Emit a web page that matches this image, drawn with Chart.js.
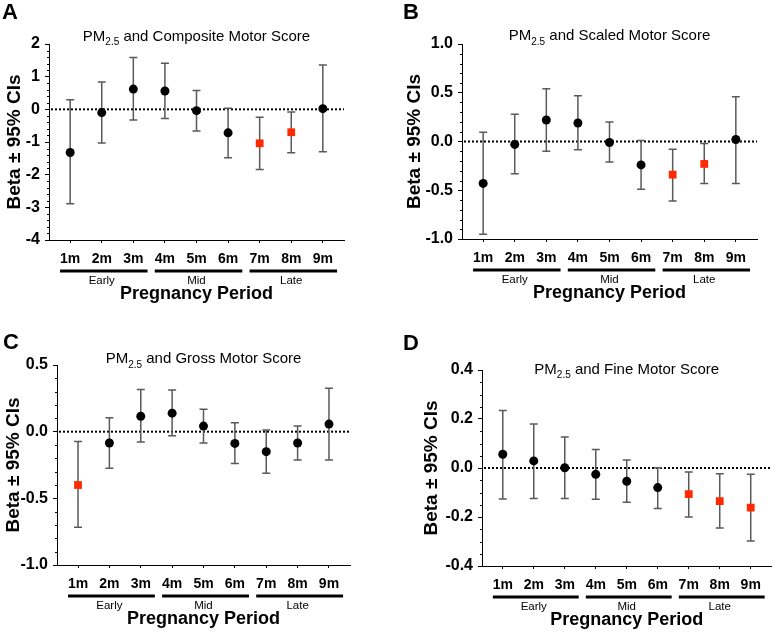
<!DOCTYPE html>
<html>
<head>
<meta charset="utf-8">
<script src="https://cdn.jsdelivr.net/npm/chart.js@4.4.1/dist/chart.umd.min.js"></script>
<style>
  body { margin: 0; background: #fff; }
  #wrap { position: relative; width: 777px; height: 634px; }
  canvas { position: absolute; }
</style>
</head>
<body>
<div id="wrap">
  <canvas id="chartA" style="left:0;top:0" width="388" height="317"></canvas>
  <canvas id="chartB" style="left:388px;top:0" width="389" height="317"></canvas>
  <canvas id="chartC" style="left:0;top:317px" width="388" height="317"></canvas>
  <canvas id="chartD" style="left:388px;top:317px" width="389" height="317"></canvas>
</div>
<script>
const months = ["1m", "2m", "3m", "4m", "5m", "6m", "7m", "8m", "9m"];
const periods = ["Early", "Mid", "Late"];
const periodMonths = [[1, 3], [4, 6], [7, 9]];

// A - composite motor score
const compositeBeta = [-1.32, -0.10, 0.62, 0.56, -0.04, -0.72, -1.04, -0.70, 0.02];
const compositeLow = [-2.89, -1.03, -0.33, -0.28, -0.66, -1.48, -1.84, -1.33, -1.30];
const compositeHigh = [0.29, 0.84, 1.59, 1.41, 0.58, 0.03, -0.24, -0.08, 1.36];
const compositeTicks = [-4, -3, -2, -1, 0, 1, 2];

// B - scaled motor score
const scaledBeta = [-0.43, -0.03, 0.22, 0.19, -0.01, -0.24, -0.34, -0.23, 0.02];
const scaledLow = [-0.95, -0.33, -0.10, -0.085, -0.21, -0.49, -0.61, -0.43, -0.43];
const scaledHigh = [0.095, 0.28, 0.54, 0.47, 0.20, 0.01, -0.08, -0.02, 0.46];
const scaledTicks = [-1.0, -0.5, 0.0, 0.5, 1.0];

// C - gross motor score
const grossBeta = [-0.40, -0.085, 0.116, 0.139, 0.042, -0.088, -0.15, -0.085, 0.057];
const grossLow = [-0.716, -0.275, -0.078, -0.031, -0.085, -0.238, -0.312, -0.213, -0.213];
const grossHigh = [-0.073, 0.104, 0.316, 0.313, 0.169, 0.066, 0.012, 0.042, 0.326];
const grossTicks = [-1.0, -0.5, 0.0, 0.5];

// D - fine motor score
const fineBeta = [0.056, 0.029, 0.001, -0.026, -0.054, -0.080, -0.107, -0.135, -0.162];
const fineLow = [-0.127, -0.124, -0.124, -0.128, -0.14, -0.165, -0.20, -0.245, -0.298];
const fineHigh = [0.235, 0.18, 0.127, 0.076, 0.033, 0.001, -0.016, -0.023, -0.026];
const fineTicks = [-0.4, -0.2, 0.0, 0.2, 0.4];

const FONT = '"Liberation Sans", Arial, Helvetica, sans-serif';
Chart.defaults.font.family = FONT;
Chart.defaults.color = '#000';

const RED = '#ff2a00';

function decor(p) {
  return {
    id: 'decor' + p.letter,
    beforeDatasetsDraw(chart) {
      const { ctx, chartArea: a, scales: { x, y } } = chart;
      ctx.save();
      // dotted zero line
      const y0 = y.getPixelForValue(0);
      ctx.strokeStyle = '#000';
      ctx.lineWidth = 2;
      ctx.setLineDash([2, 2]);
      ctx.beginPath();
      ctx.moveTo(a.left + 2, y0);
      ctx.lineTo(a.right, y0);
      ctx.stroke();
      ctx.setLineDash([]);
      // CI whiskers
      ctx.strokeStyle = '#5a5a5a';
      ctx.lineWidth = 1.5;
      p.low.forEach((lo, i) => {
        const px = x.getPixelForValue(i + 1);
        const pl = y.getPixelForValue(lo);
        const ph = y.getPixelForValue(p.high[i]);
        ctx.beginPath();
        ctx.moveTo(px, pl); ctx.lineTo(px, ph);
        ctx.moveTo(px - 4, pl); ctx.lineTo(px + 4, pl);
        ctx.moveTo(px - 4, ph); ctx.lineTo(px + 4, ph);
        ctx.stroke();
      });
      ctx.restore();
    },
    afterDraw(chart) {
      const { ctx, chartArea: a, scales: { x, y } } = chart;
      ctx.save();
      // minor y ticks
      ctx.strokeStyle = '#000';
      ctx.lineWidth = 1;
      const lo = p.ticks[0], hi = p.ticks[p.ticks.length - 1];
      const n = Math.round((hi - lo) / p.minor);
      for (let k = 0; k <= n; k++) {
        const v = lo + k * p.minor;
        if (p.ticks.some(t => Math.abs(t - v) < 1e-9)) continue;
        const py = Math.round(y.getPixelForValue(v)) + 0.5;
        ctx.beginPath();
        ctx.moveTo(a.left - 2, py);
        ctx.lineTo(a.left, py);
        ctx.stroke();
      }
      // period bars and labels
      ctx.fillStyle = '#000';
      ctx.lineWidth = 3;
      ctx.font = '11.5px ' + FONT;
      ctx.textAlign = 'center';
      ctx.textBaseline = 'alphabetic';
      periodMonths.forEach((r, i) => {
        const x1 = x.getPixelForValue(r[0] - 0.32);
        const x2 = x.getPixelForValue(r[1] + 0.45);
        ctx.beginPath();
        ctx.moveTo(x1, a.bottom + 31);
        ctx.lineTo(x2, a.bottom + 31);
        ctx.stroke();
        ctx.fillText(periods[i], x.getPixelForValue((r[0] + r[1]) / 2), a.bottom + 44);
      });
      // title with subscript
      const t1 = 'PM', t2 = '2.5', t3 = ' and ' + p.title;
      ctx.textAlign = 'left';
      ctx.font = '15px ' + FONT;
      const w1 = ctx.measureText(t1).width, w3 = ctx.measureText(t3).width;
      ctx.font = '10px ' + FONT;
      const w2 = ctx.measureText(t2).width;
      let tx = (a.left + a.right) / 2 - (w1 + w2 + w3) / 2;
      const ty = a.top + p.titleDy;
      ctx.font = '15px ' + FONT;
      ctx.fillText(t1, tx, ty);
      ctx.font = '10px ' + FONT;
      ctx.fillText(t2, tx + w1, ty + 4.5);
      ctx.font = '15px ' + FONT;
      ctx.fillText(t3, tx + w1 + w2, ty);
      // panel letter
      ctx.font = 'bold 22px ' + FONT;
      ctx.fillText(p.letter, p.letterX, p.letterY);
      ctx.restore();
    }
  };
}

function makePanel(id, p) {
  const sig = i => p.high[i] < 0 || p.low[i] > 0;
  new Chart(document.getElementById(id), {
    type: 'scatter',
    data: {
      datasets: [{
        data: p.beta.map((b, i) => ({ x: i + 1, y: b })),
        pointStyle: c => sig(c.dataIndex) ? 'rect' : 'circle',
        pointRadius: c => sig(c.dataIndex) ? 5.5 : 4.5,
        backgroundColor: c => sig(c.dataIndex) ? RED : '#000',
        borderWidth: 0
      }]
    },
    options: {
      responsive: false,
      animation: false,
      layout: { padding: { left: 0, top: p.top, right: p.right, bottom: 0 } },
      plugins: { legend: { display: false }, tooltip: { enabled: false } },
      scales: {
        x: {
          type: 'linear',
          min: 0.33,
          max: 9.67,
          afterBuildTicks: s => { s.ticks = months.map((m, i) => ({ value: i + 1 })); },
          afterFit: s => { s.height = p.xH; },
          ticks: {
            callback: v => months[Math.round(v) - 1],
            font: { size: 14, weight: 'bold' },
            padding: 8,
            autoSkip: false,
            maxRotation: 0
          },
          grid: { drawOnChartArea: false, tickLength: 3, tickColor: '#000' },
          border: { color: '#000', width: 1 },
          title: {
            display: true,
            text: 'Pregnancy Period',
            font: { size: 18, weight: 'bold' },
            padding: { top: 0, bottom: p.xTitlePad }
          }
        },
        y: {
          min: p.ticks[0],
          max: p.ticks[p.ticks.length - 1],
          afterBuildTicks: s => { s.ticks = p.ticks.map(v => ({ value: v })); },
          afterFit: s => { s.width = p.yW; },
          ticks: {
            callback: v => Number(v).toFixed(p.dec),
            font: { size: 16, weight: 'bold' },
            padding: 5
          },
          grid: { drawOnChartArea: false, tickLength: 4, tickColor: '#000' },
          border: { color: '#000', width: 1 },
          title: {
            display: true,
            text: 'Beta \u00b1 95% CIs',
            font: { size: 19, weight: 'bold' },
            padding: { top: p.yTitlePad, bottom: 0 }
          }
        }
      }
    },
    plugins: [decor(p)]
  });
}

makePanel('chartA', {
  letter: 'A', letterX: 2, letterY: 19, title: 'Composite Motor Score',
  beta: compositeBeta, low: compositeLow, high: compositeHigh, ticks: compositeTicks,
  dec: 0, minor: 0.2, yW: 49, top: 44, right: 44, xH: 77,
  xTitlePad: 12, yTitlePad: 3.7, titleDy: -3.5
});
makePanel('chartB', {
  letter: 'B', letterX: 15, letterY: 18.5, title: 'Scaled Motor Score',
  beta: scaledBeta, low: scaledLow, high: scaledHigh, ticks: scaledTicks,
  dec: 1, minor: 0.1, yW: 74, top: 44, right: 20, xH: 78,
  xTitlePad: 13, yTitlePad: 15.3, titleDy: -4
});
makePanel('chartC', {
  letter: 'C', letterX: 3, letterY: 31.7, title: 'Gross Motor Score',
  beta: grossBeta, low: grossLow, high: grossHigh, ticks: grossTicks,
  dec: 1, minor: 0.1, yW: 57, top: 48, right: 38, xH: 69,
  xTitlePad: 4, yTitlePad: 2, titleDy: -2
});
makePanel('chartD', {
  letter: 'D', letterX: 15, letterY: 33.3, title: 'Fine Motor Score',
  beta: fineBeta, low: fineLow, high: fineHigh, ticks: fineTicks,
  dec: 1, minor: 0.05, yW: 94, top: 53, right: 1, xH: 68,
  xTitlePad: 3, yTitlePad: 32, titleDy: 3.7
});
</script>
</body>
</html>
